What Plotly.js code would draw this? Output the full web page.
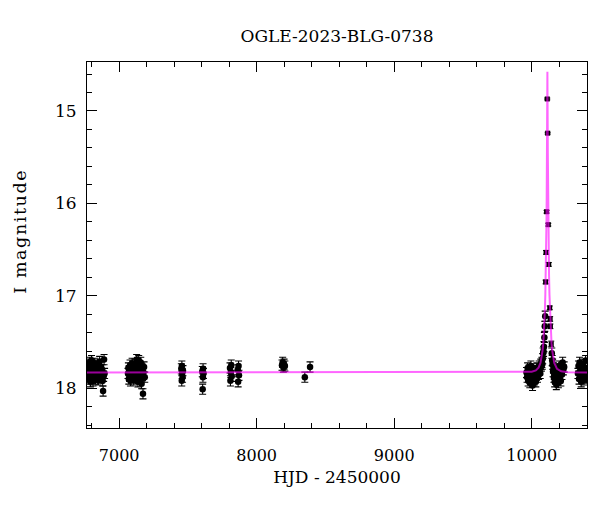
<!DOCTYPE html>
<html>
<head>
<meta charset="utf-8">
<script src="https://cdn.plot.ly/plotly-3.0.1.min.js"></script>
<style>html,body{margin:0;padding:0;background:#fff;}#chart{width:600px;height:512px;}</style>
</head>
<body>
<div id="chart"></div>
<script>
// Baseline photometry (HJD - 2450000, I mag), errors ~0.055
const baseT = [
  6768, 6771, 6773, 6776, 6778, 6781, 6783, 6786, 6789, 6791, 6794, 6797, 6799, 6802, 6805, 6808, 6810, 6813, 6816, 6819, 6822, 6825, 6828, 6831, 6834, 6837, 6840, 6844, 6847, 6851, 6854, 6858, 6861, 6865, 6869, 6872, 6876, 6880, 6883, 6887, 6890, 6894,
  7064, 7067, 7070, 7073, 7076, 7079, 7082, 7085, 7088, 7091, 7094, 7097, 7100, 7103, 7106, 7109, 7112, 7115, 7118, 7121, 7124, 7127, 7130, 7133, 7136, 7139, 7142, 7145, 7148, 7151, 7154, 7157, 7160, 7163, 7166, 7169, 7173, 7177, 7181, 7186,
  7452, 7455, 7456, 7458, 7461, 7464,
  7604, 7607, 7609, 7610, 7613,
  7806, 7809, 7812, 7815, 7818, 7862, 7865, 7868, 7871,
  8184, 8189, 8194, 8199, 8205,
  8350, 8388,
  9962, 9966, 9970, 9974, 9978, 9982, 9986, 9990, 9994, 9998, 10002, 10006, 10010, 10014, 10018, 10022, 10026, 10030, 10034, 10038, 10042, 10046, 10050, 10054, 10058, 10062, 10066, 10070, 10074, 10077, 10080, 10083, 10086, 10089, 10092, 10095, 10098,
  10146, 10149, 10152, 10155, 10158, 10161, 10164, 10167, 10170, 10173, 10176, 10179, 10182, 10185, 10188, 10191, 10194, 10197, 10200, 10204, 10208, 10212, 10216, 10220, 10225, 10230, 10236,
  10336, 10340, 10344, 10348, 10352, 10356, 10360, 10364, 10368, 10372, 10376, 10380, 10384, 10388, 10392, 10396, 10399
];
const baseM = [
  17.82, 17.76, 17.88, 17.85, 17.74, 17.90, 17.80, 17.72, 17.86, 17.93, 17.78, 17.84, 17.70, 17.89, 17.81, 17.76, 17.92, 17.83, 17.79, 17.87, 17.73, 17.85, 17.90, 17.77, 17.82, 17.88, 17.75, 17.84, 17.91, 17.79, 17.86, 17.71, 17.83, 17.89, 17.77, 17.85, 17.80, 17.92, 18.03, 17.87, 17.69, 17.84,
  17.84, 17.78, 17.90, 17.81, 17.87, 17.75, 17.92, 17.83, 17.79, 17.86, 17.73, 17.88, 17.82, 17.77, 17.91, 17.84, 17.80, 17.86, 17.74, 17.89, 17.83, 17.69, 17.85, 17.78, 17.93, 17.81, 17.70, 17.87, 17.76, 17.84, 17.90, 17.72, 17.82, 17.95, 17.79, 17.86, 18.06, 17.83, 17.77, 17.88,
  17.79, 17.92, 17.76, 17.84, 17.88, 17.81,
  17.82, 18.01, 17.88, 17.79, 17.84,
  17.78, 17.92, 17.83, 17.75, 17.87, 17.80, 17.93, 17.76, 17.86,
  17.75, 17.72, 17.77, 17.74, 17.76,
  17.88, 17.77,
  17.83, 17.88, 17.78, 17.92, 17.85, 17.80, 17.94, 17.86, 17.76, 17.90, 17.83, 17.97, 17.87, 17.79, 17.91, 17.84, 17.81, 17.93, 17.86, 17.78, 17.88, 17.82, 17.85, 17.76, 17.80, 17.84, 17.74, 17.76, 17.72, 17.74, 17.68, 17.62, 17.60, 17.55, 17.45, 17.33, 17.22,
  17.62, 17.70, 17.74, 17.82, 17.78, 17.88, 17.85, 17.93, 17.80, 17.90, 17.86, 17.96, 17.83, 17.91, 17.79, 17.87, 17.94, 17.84, 17.76, 17.89, 17.82, 17.92, 17.78, 17.85, 17.72, 17.80, 17.77,
  17.84, 17.76, 17.90, 17.72, 17.86, 17.80, 17.93, 17.78, 17.88, 17.74, 17.83, 17.91, 17.79, 17.86, 17.70, 17.82, 17.89
];
const baseErr = 0.055;

// Points near the peak
const peakT = [10101, 10104, 10108, 10113, 10116, 10120.5, 10124, 10131, 10134, 10136, 10142];
const peakM = [16.85, 16.53, 16.09, 14.87, 15.24, 16.23, 16.66, 17.13, 17.25, 17.33, 17.52];
const peakErr = [0.02, 0.02, 0.015, 0.01, 0.01, 0.015, 0.02, 0.02, 0.025, 0.025, 0.03];

// Model light curve
const modelT = [6760, 9950, 10000, 10030, 10050, 10064, 10074, 10079, 10084, 10089, 10092, 10096, 10099, 10102, 10104, 10106, 10107.5, 10109, 10110, 10111, 10112, 10113, 10114, 10115, 10116, 10117, 10118, 10119, 10120.5, 10122, 10124, 10126, 10129, 10132, 10136, 10139, 10144, 10149, 10154, 10164, 10184, 10214, 10264, 10410];
const modelM = [17.830, 17.828, 17.822, 17.807, 17.777, 17.725, 17.652, 17.590, 17.512, 17.400, 17.305, 17.145, 16.987, 16.780, 16.604, 16.380, 16.178, 15.920, 15.706, 15.450, 15.130, 14.780, 14.576, 14.780, 15.130, 15.450, 15.706, 15.920, 16.178, 16.380, 16.604, 16.780, 16.987, 17.145, 17.305, 17.400, 17.512, 17.590, 17.652, 17.725, 17.790, 17.817, 17.827, 17.829];

const xTicks = [7000, 8000, 9000, 10000];
const yTicks = [15, 16, 17, 18];
const xRange = [6766, 10402];
const yRange = [18.43, 14.47];

const FONT = 'DejaVu Serif, Liberation Serif, serif';

const traces = [
  {
    x: baseT, y: baseM, type: 'scatter', mode: 'markers',
    marker: {color: '#000', size: 6.5},
    error_y: {type: 'constant', value: baseErr, color: '#000', thickness: 1.1, width: 3.5},
    hoverinfo: 'skip', showlegend: false
  },
  {
    x: peakT, y: peakM, type: 'scatter', mode: 'markers',
    marker: {color: '#000', size: 5, symbol: 'square'},
    error_y: {type: 'data', array: peakErr, color: '#000', thickness: 1, width: 3},
    hoverinfo: 'skip', showlegend: false
  },
  {
    x: modelT, y: modelM, type: 'scatter', mode: 'lines',
    line: {color: 'rgba(255,0,255,0.6)', width: 2},
    hoverinfo: 'skip', showlegend: false
  },
  {
    // carrier for the mirrored (top/right) tick axes
    x: [modelT[0]], y: [modelM[0]], xaxis: 'x2', yaxis: 'y2', type: 'scatter', mode: 'markers',
    marker: {opacity: 0}, hoverinfo: 'skip', showlegend: false
  }
];

const tickCommon = {
  ticks: 'inside', ticklen: 10, tickwidth: 1, tickcolor: '#000',
  showgrid: false, zeroline: false
};

const layout = {
  width: 600, height: 512,
  margin: {l: 87, r: 13, t: 62, b: 84},
  paper_bgcolor: '#fff', plot_bgcolor: '#fff',
  font: {family: FONT, color: '#000'},
  title: {text: 'OGLE-2023-BLG-0738', font: {family: FONT, size: 17, color: '#000'},
          x: 0.5, xref: 'paper', y: 1 - 36/512, yref: 'container', yanchor: 'middle'},
  xaxis: Object.assign({}, tickCommon, {
    showline: true, linecolor: '#000', linewidth: 1, mirror: true,
    range: xRange, tickvals: xTicks, ticktext: xTicks.map(String),
    tickfont: {family: FONT, size: 16, color: '#000'},
    minor: {dtick: 200, tick0: 0, ticks: 'inside', ticklen: 5, tickwidth: 1, tickcolor: '#000', showgrid: false},
    ticklabelstandoff: 13,
    title: {text: 'HJD - 2450000', font: {family: FONT, size: 17, color: '#000'}, standoff: 6}
  }),
  yaxis: Object.assign({}, tickCommon, {
    showline: true, linecolor: '#000', linewidth: 1, mirror: true,
    range: yRange, tickvals: yTicks, ticktext: yTicks.map(String),
    tickfont: {family: FONT, size: 17, color: '#000'},
    minor: {dtick: 0.2, tick0: 0, ticks: 'inside', ticklen: 5, tickwidth: 1, tickcolor: '#000', showgrid: false},
    ticklabelstandoff: 6
  }),
  xaxis2: Object.assign({}, tickCommon, {
    overlaying: 'x', side: 'top', anchor: 'y', range: xRange, tickvals: xTicks,
    showticklabels: false, showline: false,
    minor: {dtick: 200, tick0: 0, ticks: 'inside', ticklen: 5, tickwidth: 1, tickcolor: '#000', showgrid: false}
  }),
  yaxis2: Object.assign({}, tickCommon, {
    overlaying: 'y', side: 'right', anchor: 'x', range: yRange, tickvals: yTicks,
    showticklabels: false, showline: false,
    minor: {dtick: 0.2, tick0: 0, ticks: 'inside', ticklen: 5, tickwidth: 1, tickcolor: '#000', showgrid: false}
  }),
  annotations: [{
    text: 'I magnitude', textangle: -90, showarrow: false,
    xref: 'paper', yref: 'paper', x: (20 - 87) / 500, y: (428 - 232) / 366,
    xanchor: 'center', yanchor: 'middle',
    font: {family: FONT, size: 17.5, color: '#000'}
  }]
};

Plotly.newPlot('chart', traces, layout, {displayModeBar: false, staticPlot: true}).then(function () {
  const t = document.querySelector('.annotation-text');
  if (t) t.setAttribute('letter-spacing', '1.6');
});
</script>
</body>
</html>
